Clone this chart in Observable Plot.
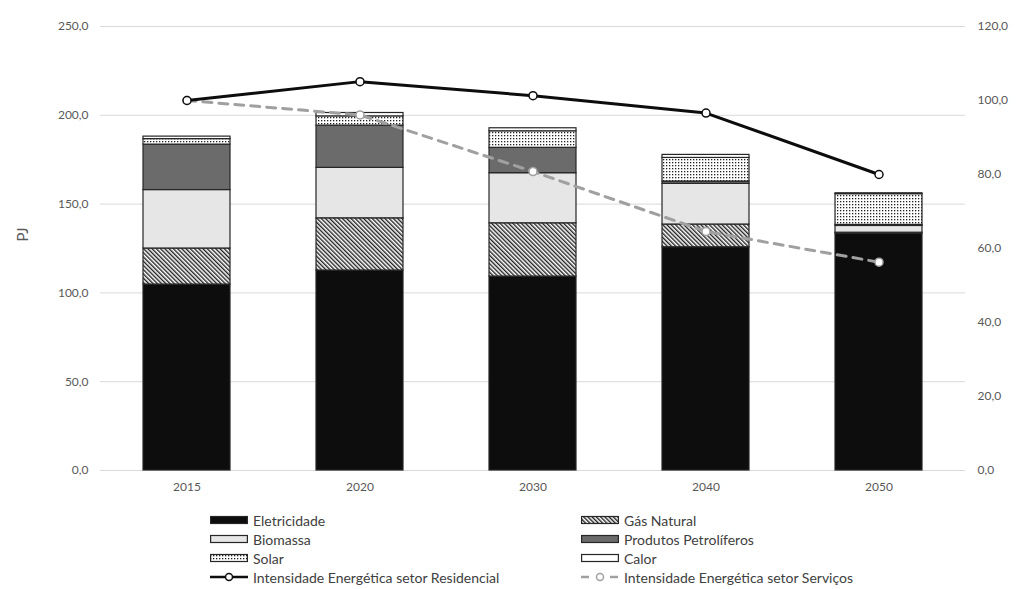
<!DOCTYPE html>
<html><head><meta charset="utf-8">
<script src="https://cdn.jsdelivr.net/npm/d3@7"></script>
<script src="https://cdn.jsdelivr.net/npm/@observablehq/plot@0.6"></script>
<style>
body{margin:0;background:#fff;font-family:Lato,"Open Sans",sans-serif;}
#legend{position:relative;height:89px;width:1024px;}
.item{position:absolute;display:flex;align-items:center;height:18px;font-size:14px;color:#404040;white-space:nowrap;}
.item span{margin-left:5px;}
</style></head><body>
<svg width="0" height="0" style="position:absolute">
<defs>
<pattern id="hatch" width="3" height="3" patternUnits="userSpaceOnUse" patternTransform="rotate(-45)">
 <rect width="3" height="3" fill="#fff"/><rect width="1.4" height="3" fill="#222"/>
</pattern>
<pattern id="dots" width="3" height="3" patternUnits="userSpaceOnUse">
 <rect width="3" height="3" fill="#fff"/><rect width="1.3" height="1.3" fill="#222"/>
</pattern>
</defs></svg>
<div id="chart"></div><div id="legend"></div>
<script>
const years = ["2015","2020","2030","2040","2050"];
const sources = ["Eletricidade","Gás Natural","Biomassa","Produtos Petrolíferos","Solar","Calor"];
const eletricidade = [104.7,112.6,109.2,125.7,133.4];
const gasNatural   = [20.3,29.4,30.0,12.8,0.5];
const biomassa     = [32.9,28.4,28.2,22.9,3.8];
const petroliferos = [25.6,23.8,14.3,1.3,0.6];
const solar        = [3.1,5.2,9.3,13.3,17.3];
const calor        = [1.4,1.9,1.7,1.7,0.5];
const intResidencial = [100.0,105.1,101.3,96.6,80.0];
const intServicos    = [100.0,96.1,80.8,64.6,56.3];
const leftTicks  = [0,50,100,150,200,250];
const rightTicks = [0,20,40,60,80,100,120];
const lineNames = ["Intensidade Energética setor Residencial","Intensidade Energética setor Serviços"];

const fills = ["#0d0d0d","url(#hatch)","#e6e6e6","#6b6b6b","url(#dots)","#ffffff"];
const k = 250/120; // right axis (0–120) mapped onto left axis (0–250)
const fmt = v => d3.format(".1f")(v).replace(".", ",");

const seriesVals = [eletricidade, gasNatural, biomassa, petroliferos, solar, calor];
const table = [];
years.forEach((y,i)=> sources.forEach((s,j)=> table.push({year:y, source:s, value:seriesVals[j][i]})));
const resTable = years.map((y,i)=>({year:y, v:intResidencial[i]*k}));
const serTable = years.map((y,i)=>({year:y, v:intServicos[i]*k}));

const chart = Plot.plot({
  width:1024, height:500, marginLeft:100, marginRight:59, marginTop:26, marginBottom:30,
  style:{fontFamily:"Lato, 'Open Sans', sans-serif", fontSize:"12px", color:"#595959", background:"#fff"},
  x:{type:"band", domain:years, paddingInner:0.5, paddingOuter:0.25, label:null},
  y:{domain:[0,250], label:null},
  color:{domain:sources, range:fills},
  marks:[
    Plot.gridY(leftTicks,{stroke:"#d9d9d9", strokeOpacity:1}),
    Plot.axisX({tickSize:0, tickPadding:12, label:null}),
    Plot.axisY(leftTicks,{tickSize:0, tickPadding:12, tickFormat:fmt, label:null}),
    Plot.axisY(rightTicks.map(v=>v*k),{anchor:"right", tickSize:0, tickPadding:12, tickFormat:d=>fmt(d/k), label:null}),
    Plot.text(["PJ"],{frameAnchor:"left", dx:-77, dy:-7, rotate:-90, fontSize:15, fill:"#595959"}),
    Plot.barY(table, Plot.stackY({x:"year", y:"value", fill:"source", order:sources, stroke:"#262626", strokeWidth:1.2})),
    Plot.line(serTable,{x:"year", y:"v", stroke:"#a0a0a0", strokeWidth:3, strokeDasharray:"9,7"}),
    Plot.dot(serTable,{x:"year", y:"v", r:4, fill:"#fff", stroke:"#a0a0a0", strokeWidth:1.5}),
    Plot.line(resTable,{x:"year", y:"v", stroke:"#0d0d0d", strokeWidth:3}),
    Plot.dot(resTable,{x:"year", y:"v", r:4, fill:"#fff", stroke:"#0d0d0d", strokeWidth:1.5})
  ]
});
document.getElementById("chart").appendChild(chart);

// legend
const legend = d3.select("#legend");
const rowsY = [20,39,58,77];
const colsX = [210,581];
const items = [
  {name:sources[0], type:"bar", fill:fills[0], c:0, r:0},
  {name:sources[1], type:"bar", fill:fills[1], c:1, r:0},
  {name:sources[2], type:"bar", fill:fills[2], c:0, r:1},
  {name:sources[3], type:"bar", fill:fills[3], c:1, r:1},
  {name:sources[4], type:"bar", fill:fills[4], c:0, r:2},
  {name:sources[5], type:"bar", fill:fills[5], c:1, r:2},
  {name:lineNames[0], type:"line", stroke:"#0d0d0d", dash:null, c:0, r:3},
  {name:lineNames[1], type:"line", stroke:"#a0a0a0", dash:"8,21", c:1, r:3}
];
items.forEach(it=>{
  const d = legend.append("div").attr("class","item")
    .style("left", colsX[it.c]+"px").style("top", (rowsY[it.r]-9)+"px");
  const s = d.append("svg").attr("width",38).attr("height",18);
  if (it.type==="bar") {
    s.append("rect").attr("x",0.6).attr("y",5.5).attr("width",36.8).attr("height",7)
      .attr("fill",it.fill).attr("stroke","#262626").attr("stroke-width",1.2);
  } else {
    s.append("line").attr("x1",0).attr("x2",38).attr("y1",9).attr("y2",9)
      .attr("stroke",it.stroke).attr("stroke-width",2.5)
      .attr("stroke-dasharray",it.dash);
    s.append("circle").attr("cx",19).attr("cy",9).attr("r",3.5)
      .attr("fill","#fff").attr("stroke",it.stroke).attr("stroke-width",1.5);
  }
  d.append("span").text(it.name);
});
</script>
</body></html>
